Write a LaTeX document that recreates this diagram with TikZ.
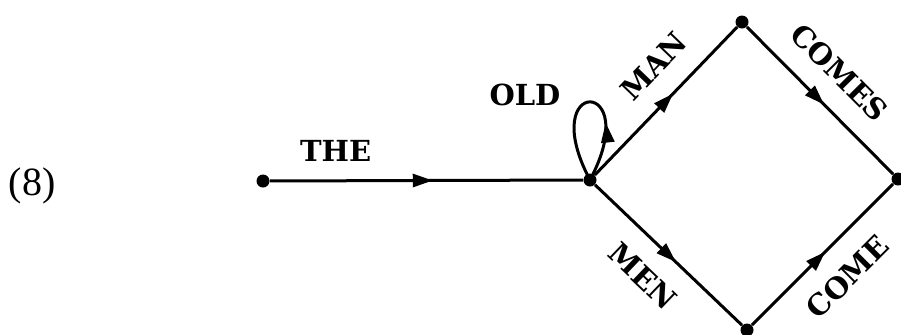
\documentclass[tikz,border=0pt]{standalone}
\usepackage{fontspec}
\setmainfont{Liberation Serif}
\newfontfamily\labfont{DejaVu Serif}
\usetikzlibrary{arrows.meta,decorations.markings}
\begin{document}
\begin{tikzpicture}[x=0.5pt,y=0.5pt,
  vertex/.style={circle,fill=black,inner sep=0pt,minimum size=6.5pt},
  conn/.style={line width=1.5pt},
  lab/.style={font=\labfont\fontsize{14.5pt}{14.5pt}\selectfont\bfseries,inner sep=0pt},
  midarrow/.style={postaction={decorate},decoration={markings,mark=at position #1 with {\arrow{Triangle[length=10pt,width=6.5pt]}}}}
]
\useasboundingbox (0,0) rectangle (901,334);
\node[vertex] (A) at (263,153) {};
\node[vertex] (B) at (590,154) {};
\node[vertex] (T) at (742,312) {};
\node[vertex] (R) at (898,155) {};
\node[vertex] (Bo) at (747,4) {};
\node[font=\fontsize{20pt}{20pt}\selectfont,inner sep=0pt] (num) at (32,148) {(8)};
\node[lab] (old) at (525,239) {OLD};
\draw[conn,midarrow=0.52] (A) -- node[lab,pos=0.21,above=9pt] (the) {THE} (B);
\draw[conn,midarrow=0.55] (B) -- node[lab,sloped,pos=0.58,above=10.5pt] (man) {MAN} (T);
\draw[conn,midarrow=0.53] (T) -- node[lab,sloped,pos=0.47,above=10.5pt] (comes) {COMES} (R);
\draw[conn,midarrow=0.55] (B) -- node[lab,sloped,pos=0.48,below=10.5pt] (men) {MEN} (Bo);
\draw[conn,midarrow=0.52] (Bo) -- node[lab,sloped,pos=0.51,below=10.5pt] (come) {COME} (R);
\draw[conn,midarrow=0.34] (B.center) .. controls +(62:118) and +(118:118) .. (B.center);
\end{tikzpicture}
\end{document}
